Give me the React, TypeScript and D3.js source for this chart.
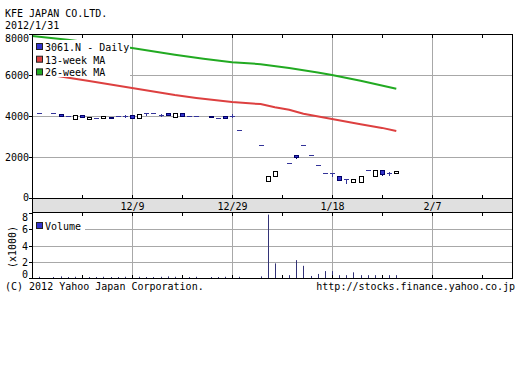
import React from "react";
import * as d3 from "d3";

const TITLE = "KFE JAPAN CO.LTD.";
const DATE_LABEL = "2012/1/31";
const FOOT_LEFT = "(C) 2012 Yahoo Japan Corporation.";
const FOOT_RIGHT = "http://stocks.finance.yahoo.co.jp";
const SERIES_NAMES = ["3061.N - Daily", "13-week MA", "26-week MA"];
const BASE_DATE = "2011-11-21";

const dates = [
  "2011-11-22", "2011-11-24", "2011-11-25", "2011-11-28", "2011-11-29", "2011-11-30",
  "2011-12-01", "2011-12-02", "2011-12-05", "2011-12-06", "2011-12-07", "2011-12-08",
  "2011-12-09", "2011-12-12", "2011-12-13", "2011-12-14", "2011-12-15", "2011-12-16",
  "2011-12-19", "2011-12-20", "2011-12-21", "2011-12-22", "2011-12-26", "2011-12-27",
  "2011-12-28", "2011-12-29", "2011-12-30", "2012-01-04", "2012-01-05", "2012-01-06",
  "2012-01-10", "2012-01-11", "2012-01-12", "2012-01-13", "2012-01-16", "2012-01-17",
  "2012-01-18", "2012-01-19", "2012-01-20", "2012-01-23", "2012-01-24", "2012-01-25",
  "2012-01-26", "2012-01-27", "2012-01-30", "2012-01-31",
];
const opens = [
  4160, 4130, 4110, 4000, 3850, 4060, 3860, 3900, 3900, 3960, 4000, 4000,
  4060, 3890, 4130, 4130, 4060, 4130, 3970, 4160, 4000, 4000, 4010, 3920,
  4000, 3990, 3300, 2600, 830, 1080, 1720, 2110, 2590, 2110, 1620, 1200,
  1200, 1090, 910, 790, 800, 1360, 1080, 1360, 1200, 1210,
];
const highs = [
  4160, 4130, 4110, 4000, 4050, 4060, 3960, 3900, 3990, 3960, 4000, 4070,
  4060, 4100, 4130, 4130, 4120, 4130, 4160, 4160, 4000, 4000, 4010, 3920,
  4000, 4080, 3300, 2600, 1070, 1330, 1720, 2110, 2590, 2110, 1620, 1200,
  1200, 1090, 910, 910, 1070, 1360, 1360, 1360, 1280, 1330,
];
const lows = [
  4160, 4130, 3990, 4000, 3850, 3970, 3860, 3900, 3900, 3890, 4000, 3940,
  3920, 3890, 4040, 4130, 4000, 4040, 3970, 4000, 4000, 4000, 3950, 3920,
  3900, 3940, 3300, 2600, 830, 1080, 1720, 1960, 2590, 2110, 1620, 1200,
  1080, 880, 750, 790, 800, 1360, 1080, 1100, 1130, 1210,
];
const closes = [
  4160, 4130, 3990, 4000, 4050, 3970, 3960, 3900, 3990, 3890, 4000, 4000,
  3920, 4100, 4130, 4130, 4060, 4040, 4160, 4000, 4000, 4000, 3950, 3920,
  3900, 3990, 3300, 2600, 1070, 1330, 1720, 2020, 2590, 2110, 1620, 1200,
  1200, 880, 910, 910, 1070, 1360, 1360, 1180, 1200, 1320,
];
// volume in thousands of shares
const volumes = [
  0.15, 0.1, 0.2, 0.1, 0.15, 0.2, 0.1, 0.1, 0.15, 0.1, 0.1, 0.15,
  0.2, 0.15, 0.1, 0.1, 0.15, 0.2, 0.15, 0.1, 0.1, 0.15, 0.1, 0.1,
  0.15, 0.2, 0.15, 0.2, 7.8, 1.8, 0.35, 2.2, 1.5, 0.25, 0.5, 0.85,
  0.85, 0.35, 0.35, 0.7, 0.35, 0.35, 0.35, 0.35, 0.35, 0.35,
];

const ma13Dates = [
  "2011-11-21", "2011-11-25", "2011-12-01", "2011-12-09", "2011-12-19", "2011-12-22",
  "2011-12-29", "2012-01-04", "2012-01-06", "2012-01-10", "2012-01-12", "2012-01-18",
  "2012-01-24", "2012-01-27", "2012-01-31",
];
const ma13Values = [
  6150, 5930, 5710, 5370, 5020, 4880, 4680, 4580, 4430, 4300, 4110, 3850, 3600, 3420, 3270,
];
const ma26Dates = [
  "2011-11-21", "2011-11-28", "2011-12-09", "2011-12-19", "2011-12-23", "2011-12-29",
  "2012-01-04", "2012-01-10", "2012-01-16", "2012-01-18", "2012-01-24", "2012-01-31",
];
const ma26Values = [7900, 7720, 7320, 6990, 6790, 6620, 6530, 6340, 6120, 6000, 5720, 5330];

const xTickDates = ["2011-12-09", "2011-12-29", "2012-01-18", "2012-02-07"];
const xTickLabels = ["12/9", "12/29", "1/18", "2/7"];
const minorTickDates = ["2011-11-30", "2011-12-20", "2012-01-09", "2012-01-27", "2012-02-16"];
const priceTicks = [0, 2000, 4000, 6000, 8000];
const volumeTicks = [0, 2, 4, 6, 8];

const FONT = "'DejaVu Sans Mono', monospace";
const BLUE = "#3333cc";
const RED = "#dd4040";
const GREEN = "#22aa22";
const GRID = "#a8a8a8";

function weekdayIndex(s: string): number {
  const a = Date.UTC(+BASE_DATE.slice(0, 4), +BASE_DATE.slice(5, 7) - 1, +BASE_DATE.slice(8, 10));
  const b = Date.UTC(+s.slice(0, 4), +s.slice(5, 7) - 1, +s.slice(8, 10));
  const d = Math.round((b - a) / 86400000);
  const w = Math.floor(d / 7);
  const r = d - w * 7;
  return w * 5 + Math.min(r, 5);
}

export default function App() {
  const L = 32, R = 512, T = 34, B = 198, BAND = 212, VB = 278;
  const x = d3.scaleLinear().domain([0, 67.2]).range([L, R]);
  const y = d3.scaleLinear().domain([0, 8000]).range([B, T]);
  const yv = d3.scaleLinear().domain([0, 8]).range([VB, 213]);
  const px = (d: string) => Math.round(x(weekdayIndex(d)));
  const py = (v: number) => Math.round(y(v));

  const line = d3
    .line<[number, number]>()
    .x((d) => d[0])
    .y((d) => d[1]);
  const ma13 = line(ma13Dates.map((d, i) => [x(weekdayIndex(d)), y(ma13Values[i])]));
  const ma26 = line(ma26Dates.map((d, i) => [x(weekdayIndex(d)), y(ma26Values[i])]));

  const allTicks = [...xTickDates, ...minorTickDates].map(px);

  return (
    <svg
      width={527}
      height={384}
      style={{ position: "absolute", left: 0, top: 0, background: "#fff" }}
      fontFamily={FONT}
      fontSize={10}
    >
      <rect x={0} y={0} width={527} height={384} fill="#fff" />
      <text x={5} y={16.5}>{TITLE}</text>
      <text x={5} y={29}>{DATE_LABEL}</text>

      {/* grids main */}
      {priceTicks.filter((t) => t > 0 && t < 8000).map((t) => (
        <line key={"hg" + t} x1={L} x2={R} y1={py(t) + 0.5} y2={py(t) + 0.5} stroke={GRID} />
      ))}
      {xTickDates.map((d) => (
        <g key={"vg" + d}>
          <line x1={px(d) + 0.5} x2={px(d) + 0.5} y1={T} y2={B} stroke={GRID} />
          <line x1={px(d) + 0.5} x2={px(d) + 0.5} y1={BAND} y2={VB} stroke={GRID} />
        </g>
      ))}
      {volumeTicks.filter((t) => t > 0 && t < 8).map((t) => (
        <line key={"vhg" + t} x1={L} x2={R} y1={Math.round(yv(t)) + 0.5} y2={Math.round(yv(t)) + 0.5} stroke={GRID} />
      ))}

      {/* moving averages */}
      <path d={ma26 || ""} fill="none" stroke={GREEN} strokeWidth={2} />
      <path d={ma13 || ""} fill="none" stroke={RED} strokeWidth={2} />

      {/* candles */}
      {dates.map((d, i) => {
        const cx = px(d);
        const o = opens[i], c = closes[i], h = highs[i], l = lows[i];
        const wick =
          h !== l ? (
            <line x1={cx + 0.5} x2={cx + 0.5} y1={py(h)} y2={py(l) + 1} stroke={o === c ? "#333399" : c > o ? "#000" : "#000066"} />
          ) : null;
        if (o === c) {
          return (
            <g key={d}>
              {wick}
              <line x1={cx - 2} x2={cx + 3} y1={py(o) + 0.5} y2={py(o) + 0.5} stroke="#333399" />
            </g>
          );
        }
        const top = py(Math.max(o, c));
        const bot = py(Math.min(o, c));
        const up = c > o;
        return (
          <g key={d}>
            {wick}
            <rect
              x={cx - 1.5}
              y={top + 0.5}
              width={4}
              height={Math.max(1, bot - top)}
              fill={up ? "#fff" : BLUE}
              stroke={up ? "#000" : "#000066"}
            />
          </g>
        );
      })}

      {/* volume bars */}
      {dates.map((d, i) => (
        <line
          key={"v" + d}
          x1={px(d) + 0.5}
          x2={px(d) + 0.5}
          y1={VB}
          y2={Math.min(VB - 1, yv(volumes[i]))}
          stroke="#333377"
        />
      ))}

      {/* legend main */}
      <rect x={33} y={40} width={97} height={37} fill="#fff" />
      {[BLUE, RED, GREEN].map((col, i) => (
        <g key={"lg" + i}>
          <rect x={36.5} y={43.5 + i * 12.7} width={6} height={6} fill={col} stroke="#222" />
          <text x={45} y={51 + i * 12.7}>{SERIES_NAMES[i]}</text>
        </g>
      ))}
      {/* legend volume */}
      <rect x={33} y={219} width={52} height={13} fill="#fff" />
      <rect x={36.5} y={222.5} width={6} height={6} fill={BLUE} stroke="#222" />
      <text x={45} y={230}>Volume</text>

      {/* frames */}
      <rect x={L + 0.5} y={T + 0.5} width={R - L} height={B - T} fill="none" stroke="#000" />
      <rect x={L + 0.5} y={B + 0.5} width={R - L} height={BAND - B} fill="#e0e0e0" stroke="#000" />
      <rect x={L + 0.5} y={BAND + 0.5} width={R - L} height={VB - BAND} fill="none" stroke="#000" />

      {/* x ticks */}
      {allTicks.map((tx, i) => (
        <g key={"xt" + i} stroke="#000">
          <line x1={tx + 0.5} x2={tx + 0.5} y1={T} y2={T + 4} />
          <line x1={tx + 0.5} x2={tx + 0.5} y1={B - 3} y2={B} />
          <line x1={tx + 0.5} x2={tx + 0.5} y1={BAND} y2={BAND + 4} />
          <line x1={tx + 0.5} x2={tx + 0.5} y1={VB - 3} y2={VB} />
        </g>
      ))}
      {xTickDates.map((d, i) => (
        <text key={"xl" + d} x={px(d) + 0.5} y={209.5} textAnchor="middle">{xTickLabels[i]}</text>
      ))}

      {/* y ticks */}
      {priceTicks.map((t) => (
        <g key={"yt" + t}>
          <line x1={L - 3} x2={L} y1={py(t) + 0.5} y2={py(t) + 0.5} stroke="#000" />
          <text x={29} y={Math.max(42, Math.min(200.5, py(t) + 4))} textAnchor="end">{t}</text>
        </g>
      ))}
      {volumeTicks.map((t) => (
        <g key={"vt" + t}>
          <line x1={L - 3} x2={L} y1={Math.round(yv(t)) + 0.5} y2={Math.round(yv(t)) + 0.5} stroke="#000" />
          <text x={28} y={Math.max(221, Math.min(278, Math.round(yv(t)) + 4))} textAnchor="end">{t}</text>
        </g>
      ))}
      <text x={12} y={247} transform="rotate(-90 12 247)" textAnchor="middle" dominantBaseline="central">(x1000)</text>

      <text x={5} y={290}>{FOOT_LEFT}</text>
      <text x={515} y={290} textAnchor="end">{FOOT_RIGHT}</text>
    </svg>
  );
}
